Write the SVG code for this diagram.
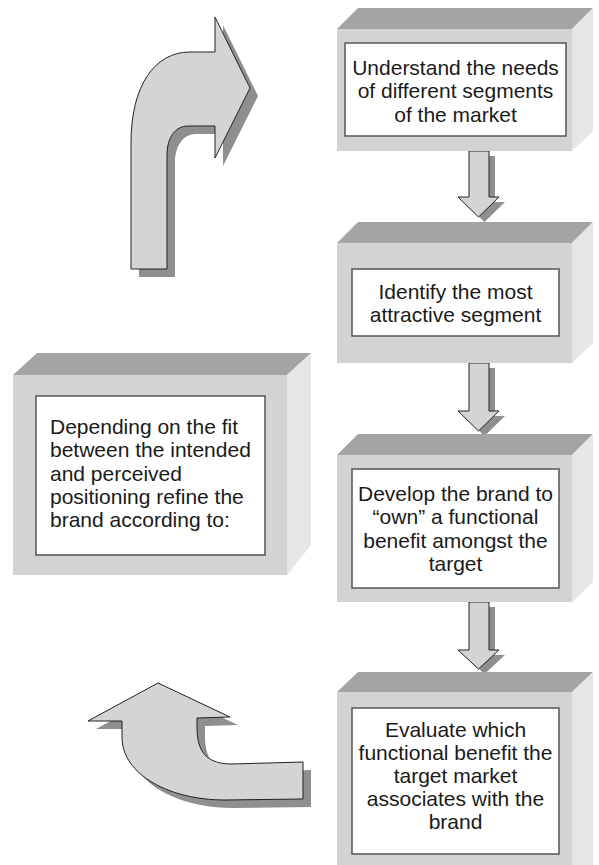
<svg xmlns="http://www.w3.org/2000/svg" width="599" height="865" viewBox="0 0 599 865">
<style>
.top{fill:#a4a4a6}
.front{fill:#d3d3d5}
.side{fill:#e6e6e8}
.inner{fill:#fff;stroke:#555;stroke-width:1.5}
.arr{fill:#d4d4d6;stroke:#222;stroke-width:1}
.shd{fill:#8f8f91}
.t{font-family:"Liberation Sans",Arial,sans-serif;font-size:21px;fill:#1a1a1a}
.c{text-anchor:middle}
</style>
<rect width="599" height="865" fill="#fff"/>
<g id="connectors">
  <g id="arrow1">
    <path class="shd" transform="translate(6,5)" d="M469,151 L489,151 L489,197 L499,197 L478.5,217 L458,197 L469,197 Z"/>
    <path class="arr" d="M469,151 L489,151 L489,197 L499,197 L478.5,217 L458,197 L469,197 Z"/>
  </g>
  <g id="arrow2">
    <path class="shd" transform="translate(6,5)" d="M469,363 L489,363 L489,411 L499,411 L478.5,431 L458,411 L469,411 Z"/>
    <path class="arr" d="M469,363 L489,363 L489,411 L499,411 L478.5,431 L458,411 L469,411 Z"/>
  </g>
  <g id="arrow3">
    <path class="shd" transform="translate(6,5)" d="M469,602 L489,602 L489,650 L499,650 L478.5,669 L458,650 L469,650 Z"/>
    <path class="arr" d="M469,602 L489,602 L489,650 L499,650 L478.5,669 L458,650 L469,650 Z"/>
  </g>
  <g id="curved-top">
    <path class="shd" transform="translate(8,8)" d="M131,269 L131,143 C131,85 155,52 190,52 L215,52 L215,17 L250,88 L215,158 L215,126 L188,126 C175,126 167,138 167,155 L167,269 Z"/>
    <path class="arr" d="M131,269 L131,143 C131,85 155,52 190,52 L215,52 L215,17 L250,88 L215,158 L215,126 L188,126 C175,126 167,138 167,155 L167,269 Z"/>
  </g>
  <g id="curved-bottom">
    <path class="shd" transform="translate(8,8)" d="M88,721 L158,683 L230,717 L197,718 L197,728 C197,755 210,764 232,764 L303,762 L303,799 L225,800 C170,800 122,775 122,737 L122,721 Z"/>
    <path class="arr" d="M88,721 L158,683 L230,717 L197,718 L197,728 C197,755 210,764 232,764 L303,762 L303,799 L225,800 C170,800 122,775 122,737 L122,721 Z"/>
  </g>
</g>
<g id="box1">
  <polygon class="top" points="337,29 358,8 593,8 572,29"/>
  <polygon class="side" points="572,29 593,8 593,131 572,151"/>
  <rect class="front" x="337" y="29" width="235" height="122"/>
  <rect class="inner" x="345" y="43" width="221" height="93"/>
  <text class="t c" x="455.5" y="74.5">Understand the needs</text>
  <text class="t c" x="455.5" y="98">of different segments</text>
  <text class="t c" x="455.5" y="121.5">of the market</text>
</g>
<g id="box2">
  <polygon class="top" points="337,243 358,222 593,222 572,243"/>
  <polygon class="side" points="572,243 593,222 593,343 572,363"/>
  <rect class="front" x="337" y="243" width="235" height="120"/>
  <rect class="inner" x="352" y="269" width="207" height="67"/>
  <text class="t c" x="455.5" y="298.5">Identify the most</text>
  <text class="t c" x="455.5" y="322">attractive segment</text>
</g>
<g id="box3">
  <polygon class="top" points="337,455 358,434 593,434 572,455"/>
  <polygon class="side" points="572,455 593,434 593,582 572,602"/>
  <rect class="front" x="337" y="455" width="235" height="147"/>
  <rect class="inner" x="352" y="469" width="207" height="119"/>
  <text class="t c" x="455.5" y="500.5">Develop the brand to</text>
  <text class="t c" x="455.5" y="524">“own” a functional</text>
  <text class="t c" x="455.5" y="547.5">benefit amongst the</text>
  <text class="t c" x="455.5" y="571">target</text>
</g>
<g id="box4">
  <polygon class="top" points="337,692 358,672 593,672 572,692"/>
  <polygon class="side" points="572,692 593,672 593,865 572,865"/>
  <rect class="front" x="337" y="692" width="235" height="173"/>
  <rect class="inner" x="352" y="708" width="207" height="146"/>
  <text class="t c" x="455.5" y="737">Evaluate which</text>
  <text class="t c" x="455.5" y="760">functional benefit the</text>
  <text class="t c" x="455.5" y="783">target market</text>
  <text class="t c" x="455.5" y="806">associates with the</text>
  <text class="t c" x="455.5" y="829">brand</text>
</g>
<g id="boxL">
  <polygon class="top" points="13,375 37,353 311,353 287,375"/>
  <polygon class="side" points="287,375 311,353 311,545 287,575"/>
  <rect class="front" x="13" y="375" width="274" height="200"/>
  <rect class="inner" x="36" y="396" width="229" height="159"/>
  <text class="t" x="50" y="434">Depending on the fit</text>
  <text class="t" x="50" y="457.3">between the intended</text>
  <text class="t" x="50" y="480.6">and perceived</text>
  <text class="t" x="50" y="503.9">positioning refine the</text>
  <text class="t" x="50" y="527.2">brand according to:</text>
</g>
</svg>
